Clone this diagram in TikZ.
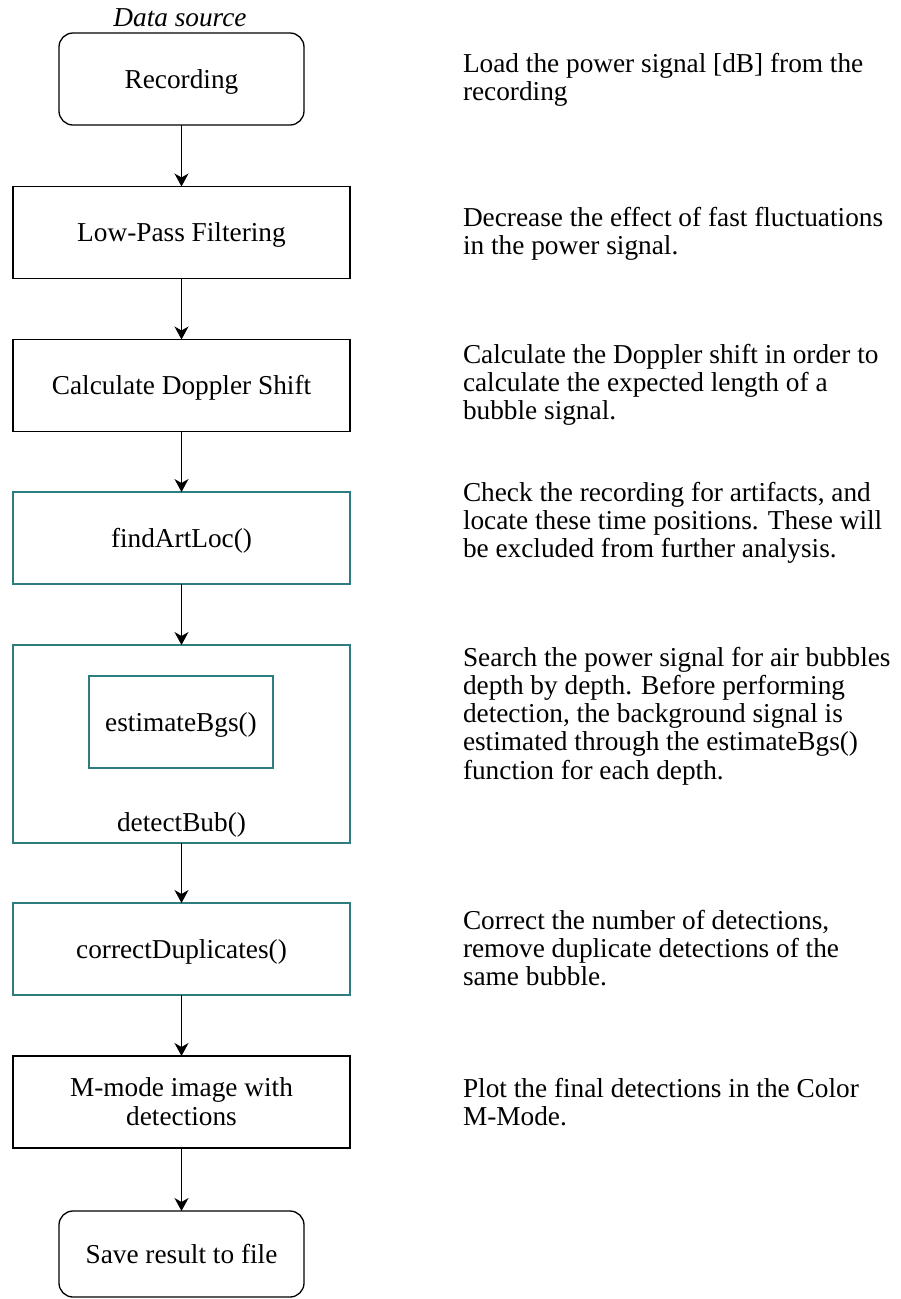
\documentclass[tikz,border=0pt]{standalone}
\usepackage{fontspec}
\setmainfont{Liberation Serif}
\usetikzlibrary{arrows.meta}
\definecolor{tealline}{HTML}{2E7D7E}
\newcommand\myfs{\fontsize{27.3pt}{28.3pt}\selectfont}
\begin{document}
\begin{tikzpicture}[x=1pt,y=-1pt,
  every node/.style={font=\myfs,inner sep=0pt,outer sep=0pt},
  boxbase/.style={draw,line width=1.3pt,text height=18pt,text depth=0pt},
  wide/.style={boxbase,minimum width=337pt,minimum height=92pt},
  tealbox/.style={wide,draw=tealline},
  roundbox/.style={boxbase,rounded corners=14pt,minimum width=245pt},
  flow/.style={line width=1.3pt,-{Stealth[length=13pt,width=14pt,inset=4pt]}},
  desc/.style={anchor=base west}]
\useasboundingbox (0,0) rectangle (901,1299);
\node[anchor=base] (ds) at (180,26) {\itshape Data source};
\node[roundbox,minimum height=92pt] (rec) at (181.5,79) {Recording};
\node[wide] (lp) at (181.5,232.5) {Low-Pass Filtering};
\node[wide] (dop) at (181.5,385.5) {Calculate Doppler Shift};
\node[tealbox] (fal) at (181.5,538) {findArtLoc()};
\node[tealbox,minimum height=198pt] (dbub) at (181.5,744) {};
\node[boxbase,draw=tealline,minimum width=184pt,minimum height=92pt] (est) at (181,722) {estimateBgs()};
\node[anchor=base] (dbubt) at (181.5,831) {detectBub()};
\node[tealbox] (cd) at (181.5,949) {correctDuplicates()};
\node[wide,text depth=28.3pt] (mm) at (181.5,1102) {\begin{tabular}[t]{@{}c@{}}M-mode image with\\detections\end{tabular}};
\node[roundbox,minimum height=86pt] (save) at (181.5,1254) {Save result to file};
\draw[flow] (rec) -- (lp);
\draw[flow] (lp) -- (dop);
\draw[flow] (dop) -- (fal);
\draw[flow] (fal) -- (dbub);
\draw[flow] (dbub) -- (cd);
\draw[flow] (cd) -- (mm);
\draw[flow] (mm) -- (save);
\node[desc] (t1) at (463,72) {\begin{tabular}[t]{@{}l@{}}Load the power signal [dB] from the\\recording\end{tabular}};
\node[desc] (t2) at (463,226) {\begin{tabular}[t]{@{}l@{}}Decrease the effect of fast fluctuations\\in the power signal.\end{tabular}};
\node[desc] (t3) at (463,363) {\begin{tabular}[t]{@{}l@{}}Calculate the Doppler shift in order to\\calculate the expected length of a\\bubble signal.\end{tabular}};
\node[desc] (t4) at (463,501) {\begin{tabular}[t]{@{}l@{}}Check the recording for artifacts, and\\locate these time positions. These will\\be excluded from further analysis.\end{tabular}};
\node[desc] (t5) at (463,666) {\begin{tabular}[t]{@{}l@{}}Search the power signal for air bubbles\\depth by depth. Before performing\\detection, the background signal is\\estimated through the estimateBgs()\\function for each depth.\end{tabular}};
\node[desc] (t6) at (463,929) {\begin{tabular}[t]{@{}l@{}}Correct the number of detections,\\remove duplicate detections of the\\same bubble.\end{tabular}};
\node[desc] (t7) at (463,1097) {\begin{tabular}[t]{@{}l@{}}Plot the final detections in the Color\\M-Mode.\end{tabular}};
\end{tikzpicture}
\end{document}
